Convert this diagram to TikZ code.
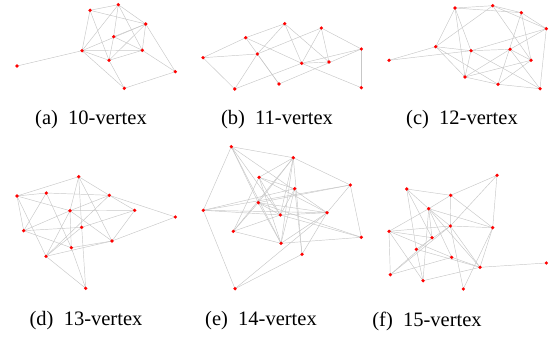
\documentclass[tikz,border=0pt]{standalone}
\usepackage{fontspec}
\setmainfont{Liberation Serif}
\begin{document}
\begin{tikzpicture}[x=1pt,y=-1pt,
  edge/.style={draw=black!22,line width=0.45pt},
  vtx/.style={circle,fill=red,inner sep=0pt,minimum size=3.6pt},
  captext/.style={font=\fontsize{20.5}{24}\selectfont,inner sep=0pt}]
\useasboundingbox (0,0) rectangle (554,337);
% ---------- (a)
\foreach \n/\x/\y in {a1/118.3/4.7,a2/90/10.3,a3/145.7/24,a4/113.7/36.7,a5/82/50.7,a6/142.3/50.3,a7/109/60.3,a8/17/66,a9/175.3/71.7,a10/124.3/88.3}
  \coordinate (\n) at (\x,\y);
\foreach \u/\v in {a2/a1,a2/a3,a1/a3,a2/a5,a2/a7,a1/a5,a1/a4,a1/a6,a3/a4,a3/a5,a3/a7,a3/a6,a3/a9,a4/a6,a4/a7,a5/a6,a5/a7,a5/a8,a5/a10,a6/a7,a6/a9,a7/a10,a9/a10}
  \draw[edge] (\u) -- (\v);
\foreach \n in {a1,a2,a3,a4,a5,a6,a7,a8,a9,a10} \node[vtx] at (\n) {};
\node[captext] (capa) at (91,119.5) {(a)\enspace 10-vertex};
% ---------- (b)
\foreach \n/\x/\y in {b1/284.7/23.7,b2/321.3/28,b3/245.7/37.7,b4/361.3/49,b5/203/57.7,b6/257.3/54,b7/301.7/63.3,b8/329/62,b9/234.7/89,b10/279/84,b11/361.3/87.7}
  \coordinate (\n) at (\x,\y);
\foreach \u/\v in {b3/b1,b3/b5,b5/b6,b5/b9,b1/b6,b1/b7,b1/b8,b3/b7,b3/b10,b6/b10,b6/b2,b6/b9,b9/b7,b2/b7,b2/b8,b2/b4,b7/b4,b7/b8,b7/b11,b10/b4,b4/b11}
  \draw[edge] (\u) -- (\v);
\foreach \n in {b1,b2,b3,b4,b5,b6,b7,b8,b9,b10,b11} \node[vtx] at (\n) {};
\node[captext] (capb) at (277,119.5) {(b)\enspace 11-vertex};
% ---------- (c)
\foreach \n/\x/\y in {c1/455/8,c2/492.7/5.7,c3/521.3/12.7,c4/546.3/28.7,c5/435.7/46.7,c6/471/50.7,c7/510/49.3,c8/389/60.3,c9/531/60.3,c10/465/77,c11/498/84.3,c12/540/88.7}
  \coordinate (\n) at (\x,\y);
\foreach \u/\v in {c1/c2,c1/c3,c2/c3,c3/c4,c2/c4,c1/c5,c2/c5,c1/c6,c1/c10,c2/c9,c3/c11,c3/c9,c4/c6,c4/c7,c4/c12,c5/c8,c8/c6,c6/c7,c5/c6,c5/c10,c5/c11,c6/c10,c6/c12,c10/c7,c10/c9,c10/c11,c11/c12,c11/c9,c7/c9,c7/c12}
  \draw[edge] (\u) -- (\v);
\foreach \n in {c1,c2,c3,c4,c5,c6,c7,c8,c9,c10,c11,c12} \node[vtx] at (\n) {};
\node[captext] (capc) at (462,119.5) {(c)\enspace 12-vertex};
% ---------- (d)
\foreach \n/\x/\y in {d1/78.7/176.7,d2/17/196,d3/46.3/193,d4/109.3/195.3,d5/70/210.7,d6/134.7/210.3,d7/175.3/217,d8/23.7/230.7,d9/81.7/227.3,d10/112/241,d11/71.3/247.7,d12/46/256.3,d13/85.7/288.3}
  \coordinate (\n) at (\x,\y);
\foreach \u/\v in {d2/d1,d3/d4,d1/d4,d1/d5,d1/d9,d1/d10,d2/d3,d2/d5,d2/d8,d2/d12,d3/d8,d3/d11,d4/d6,d4/d5,d4/d12,d5/d6,d5/d8,d5/d12,d5/d10,d5/d11,d6/d9,d6/d10,d7/d4,d7/d10,d8/d9,d8/d11,d9/d13,d9/d12,d11/d10,d12/d10,d12/d13,d11/d13}
  \draw[edge] (\u) -- (\v);
\foreach \n in {d1,d2,d3,d4,d5,d6,d7,d8,d9,d10,d11,d12,d13} \node[vtx] at (\n) {};
\node[captext] (capd) at (86,321) {(d)\enspace 13-vertex};
% ---------- (e)
\foreach \n/\x/\y in {e1/231.3/146.7,e2/293.3/157.7,e3/259/177.3,e4/350.3/185,e5/294.7/188.7,e6/258.3/202.7,e7/203.3/210.3,e8/280.3/215,e9/327/212.7,e10/233.3/231.3,e11/361.3/237.3,e12/281/243.3,e13/302/254.3,e14/235/288.7}
  \coordinate (\n) at (\x,\y);
\foreach \u/\v in {e1/e2,e1/e7,e1/e9,e1/e8,e1/e6,e1/e12,e2/e4,e2/e3,e2/e6,e2/e8,e2/e12,e2/e13,e2/e10,e3/e8,e3/e12,e3/e10,e3/e9,e4/e7,e4/e9,e4/e11,e4/e6,e5/e7,e5/e12,e5/e13,e5/e8,e5/e3,e6/e9,e6/e11,e6/e12,e6/e8,e7/e9,e7/e14,e7/e8,e8/e9,e8/e10,e8/e11,e9/e12,e9/e13,e9/e14,e10/e12,e10/e6,e12/e11,e13/e14}
  \draw[edge] (\u) -- (\v);
\foreach \n in {e1,e2,e3,e4,e5,e6,e7,e8,e9,e10,e11,e12,e13,e14} \node[vtx] at (\n) {};
\node[captext] (cape) at (261,321) {(e)\enspace 14-vertex};
% ---------- (f)
\foreach \n/\x/\y in {f1/497/175.3,f2/406.7/189,f3/450.7/195.3,f4/428.7/208.7,f5/450.3/226,f6/492.7/227.7,f7/389/231.3,f8/432/237.7,f9/416.3/249.3,f10/451.7/257.3,f11/480/267.3,f12/546.3/263,f13/390.3/274.7,f14/423/280.7,f15/463.3/289}
  \coordinate (\n) at (\x,\y);
\foreach \u/\v in {f2/f3,f3/f1,f1/f6,f3/f6,f3/f4,f3/f5,f2/f4,f2/f9,f2/f8,f4/f5,f4/f6,f4/f7,f4/f8,f4/f10,f4/f11,f4/f14,f5/f6,f5/f7,f5/f9,f5/f13,f5/f15,f5/f11,f6/f11,f6/f15,f7/f8,f7/f13,f7/f10,f7/f14,f8/f13,f9/f11,f9/f14,f10/f11,f10/f13,f14/f11,f11/f12,f1/f5}
  \draw[edge] (\u) -- (\v);
\foreach \n in {f1,f2,f3,f4,f5,f6,f7,f8,f9,f10,f11,f12,f13,f14,f15} \node[vtx] at (\n) {};
\node[captext] (capf) at (427,321) {(f)\enspace 15-vertex};
\end{tikzpicture}
\end{document}
